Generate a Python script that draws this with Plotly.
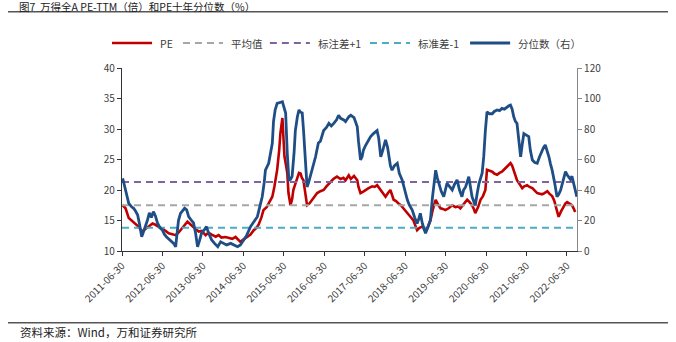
import pandas as pd
import plotly.graph_objects as go

# PE-TTM (left axis), sampled along the curve; dates as decimal years
pe_t = [2011.51, 2011.58, 2011.66, 2011.73, 2011.83, 2011.90, 2011.99, 2012.07, 2012.15, 2012.25,
        2012.32, 2012.40, 2012.49, 2012.57, 2012.65, 2012.72, 2012.82, 2012.89, 2012.94, 2013.02,
        2013.11, 2013.16, 2013.23, 2013.31, 2013.39, 2013.46, 2013.56, 2013.63, 2013.71, 2013.81,
        2013.88, 2013.95, 2014.05, 2014.13, 2014.22, 2014.30, 2014.42, 2014.50, 2014.59, 2014.67,
        2014.75, 2014.82, 2014.87, 2014.94, 2014.99, 2015.07, 2015.12, 2015.21, 2015.26, 2015.33,
        2015.38, 2015.41, 2015.46, 2015.49, 2015.51, 2015.55, 2015.58, 2015.61, 2015.66, 2015.70,
        2015.73, 2015.78, 2015.83, 2015.87, 2015.91, 2015.94, 2015.98, 2016.03, 2016.07, 2016.13,
        2016.20, 2016.25, 2016.32, 2016.40, 2016.48, 2016.55, 2016.65, 2016.72, 2016.81, 2016.90,
        2016.97, 2017.02, 2017.10, 2017.15, 2017.23, 2017.31, 2017.34, 2017.39, 2017.45, 2017.51,
        2017.59, 2017.68, 2017.74, 2017.80, 2017.89, 2017.95, 2018.01, 2018.07, 2018.13, 2018.21,
        2018.27, 2018.33, 2018.39, 2018.45, 2018.52, 2018.58, 2018.64, 2018.70, 2018.75, 2018.79,
        2018.85, 2018.92, 2018.96, 2019.00, 2019.06, 2019.12, 2019.18, 2019.25, 2019.31, 2019.37,
        2019.43, 2019.49, 2019.57, 2019.66, 2019.74, 2019.81, 2019.86, 2019.94, 2020.03, 2020.09,
        2020.15, 2020.20, 2020.23, 2020.30, 2020.36, 2020.42, 2020.48, 2020.52, 2020.58, 2020.65,
        2020.70, 2020.77, 2020.83, 2020.89, 2020.95, 2021.02, 2021.06, 2021.10, 2021.14, 2021.17,
        2021.21, 2021.26, 2021.32, 2021.39, 2021.44, 2021.51, 2021.57, 2021.64, 2021.70, 2021.76,
        2021.82, 2021.88, 2021.94, 2022.01, 2022.06, 2022.13, 2022.18, 2022.21, 2022.26, 2022.29,
        2022.35, 2022.42, 2022.46, 2022.50, 2022.56, 2022.62, 2022.66, 2022.70]
pe_v = [17.5, 17.0, 15.4, 15.0, 14.3, 14.0, 13.2, 13.6, 14.0, 14.5,
        14.3, 14.0, 13.6, 13.3, 12.9, 12.8, 12.6, 13.0, 13.4, 14.0,
        14.8, 14.5, 14.0, 13.6, 13.2, 13.3, 12.6, 13.0, 12.7, 12.35,
        12.6, 12.2, 12.3, 12.1, 12.0, 12.3, 11.5, 11.9, 12.3, 12.7,
        13.4, 13.8, 14.3, 15.5, 16.7, 17.2, 17.8, 18.9, 20.5, 23.3,
        26.5, 29.3, 31.8, 29.0, 25.5, 24.0, 22.8, 19.5, 17.5, 18.5,
        20.0, 21.0, 22.2, 22.8, 22.7, 22.0, 21.6, 19.5, 17.5, 17.8,
        18.4, 18.9, 19.5, 19.8, 20.0, 20.6, 21.4, 21.8, 22.2, 21.8,
        22.0, 21.6, 22.4, 21.8, 22.3, 21.6, 20.5, 19.5, 19.7, 20.0,
        20.3, 20.6, 20.5, 20.8, 20.0, 19.5, 18.9, 19.5, 20.0, 18.4,
        18.2, 17.8, 17.5, 17.0, 16.5, 15.9, 15.5, 15.0, 14.2, 13.4,
        13.8, 14.0, 13.6, 13.2, 14.0, 15.0, 16.8, 18.4, 17.6, 17.0,
        16.9, 16.7, 17.0, 17.5, 17.2, 17.3, 17.0, 17.6, 18.4, 18.0,
        17.5, 16.8, 16.2, 17.2, 18.4, 19.0, 20.0, 23.3, 23.2, 23.0,
        22.7, 22.5, 22.8, 23.0, 23.4, 23.8, 24.1, 24.4, 24.0, 23.3,
        22.5, 21.6, 21.0, 20.3, 20.6, 20.8, 20.5, 20.3, 19.9, 19.5,
        19.4, 19.3, 19.5, 19.8, 19.4, 19.0, 18.3, 17.5, 16.5, 15.6,
        16.5, 17.5, 17.8, 18.0, 17.8, 17.5, 17.0, 16.4]

# Ten-year percentile of PE (right axis, %)
pct_t = [2011.51, 2011.54, 2011.58, 2011.62, 2011.66, 2011.73, 2011.78, 2011.83, 2011.88, 2011.93,
         2011.98, 2012.03, 2012.07, 2012.12, 2012.17, 2012.22, 2012.27, 2012.32, 2012.37, 2012.44,
         2012.49, 2012.54, 2012.59, 2012.64, 2012.69, 2012.77, 2012.82, 2012.85, 2012.89, 2012.94,
         2012.99, 2013.04, 2013.09, 2013.14, 2013.21, 2013.26, 2013.31, 2013.36, 2013.41, 2013.46,
         2013.53, 2013.58, 2013.63, 2013.71, 2013.78, 2013.86, 2013.93, 2014.00, 2014.08, 2014.18,
         2014.25, 2014.35, 2014.42, 2014.50, 2014.57, 2014.67, 2014.75, 2014.84, 2014.89, 2014.96,
         2015.01, 2015.04, 2015.12, 2015.21, 2015.24, 2015.28, 2015.33, 2015.41, 2015.46, 2015.49,
         2015.54, 2015.58, 2015.62, 2015.66, 2015.70, 2015.75, 2015.78, 2015.83, 2015.87, 2015.91,
         2015.95, 2015.98, 2016.01, 2016.04, 2016.07, 2016.11, 2016.15, 2016.20, 2016.28, 2016.35,
         2016.40, 2016.48, 2016.55, 2016.61, 2016.67, 2016.73, 2016.80, 2016.85, 2016.90, 2016.98,
         2017.02, 2017.10, 2017.15, 2017.23, 2017.31, 2017.34, 2017.39, 2017.43, 2017.46, 2017.51,
         2017.59, 2017.64, 2017.71, 2017.76, 2017.80, 2017.84, 2017.89, 2017.94, 2018.01, 2018.06,
         2018.09, 2018.13, 2018.17, 2018.23, 2018.30, 2018.35, 2018.42, 2018.48, 2018.55, 2018.60,
         2018.67, 2018.73, 2018.79, 2018.83, 2018.87, 2018.92, 2018.97, 2019.00, 2019.05, 2019.12,
         2019.17, 2019.22, 2019.25, 2019.29, 2019.33, 2019.39, 2019.45, 2019.49, 2019.53, 2019.60,
         2019.66, 2019.72, 2019.78, 2019.84, 2019.90, 2019.94, 2019.99, 2020.07, 2020.11, 2020.15,
         2020.20, 2020.23, 2020.28, 2020.32, 2020.40, 2020.44, 2020.48, 2020.52, 2020.58, 2020.65,
         2020.70, 2020.77, 2020.83, 2020.89, 2020.95, 2021.02, 2021.06, 2021.10, 2021.14, 2021.18,
         2021.22, 2021.26, 2021.30, 2021.35, 2021.39, 2021.43, 2021.49, 2021.55, 2021.59, 2021.64,
         2021.70, 2021.76, 2021.82, 2021.88, 2021.92, 2021.96, 2022.01, 2022.05, 2022.09, 2022.13,
         2022.19, 2022.25, 2022.29, 2022.34, 2022.40, 2022.46, 2022.50, 2022.54, 2022.58, 2022.62,
         2022.66, 2022.70, 2022.74]
pct_v = [47.7, 44.0, 40.0, 35.0, 31.3, 29.0, 28.0, 26.0, 23.6, 17.0,
         9.4, 13.0, 16.0, 20.0, 25.0, 22.0, 25.8, 23.0, 18.4, 15.0,
         13.8, 11.0, 9.4, 8.0, 7.2, 5.0, 2.8, 10.0, 20.0, 24.7,
         26.0, 28.0, 27.0, 22.5, 20.0, 18.4, 12.0, 2.8, 7.0, 11.8,
         14.0, 16.0, 12.0, 7.2, 5.0, 2.8, 6.0, 5.0, 4.0, 5.0,
         4.0, 2.8, 4.0, 7.2, 10.0, 16.0, 19.0, 22.5, 28.0, 35.6,
         45.0, 53.0, 57.5, 70.6, 85.0, 92.5, 96.8, 97.5, 97.9, 95.0,
         90.5, 64.0, 46.6, 47.0, 49.0, 65.0, 79.0, 88.0, 92.5, 91.0,
         90.5, 80.0, 66.0, 50.0, 42.0, 45.0, 48.7, 55.0, 61.8, 70.8,
         72.0, 79.0, 81.0, 83.7, 82.0, 83.7, 86.0, 89.0, 87.0, 85.9,
         84.8, 88.0, 89.0, 87.5, 81.5, 72.0, 59.7, 62.0, 66.0, 69.0,
         72.8, 75.0, 77.0, 78.0, 79.0, 74.0, 61.8, 66.0, 72.8, 68.0,
         61.8, 56.0, 53.0, 56.0, 57.5, 51.0, 46.6, 40.0, 33.4, 30.0,
         26.9, 22.0, 18.1, 21.0, 24.7, 18.0, 14.0, 11.6, 15.0, 20.3,
         35.0, 48.0, 53.0, 48.0, 44.0, 39.0, 35.6, 40.0, 44.4, 42.0,
         40.0, 44.0, 46.6, 40.0, 35.6, 40.0, 42.0, 48.7, 42.0, 35.6,
         32.0, 30.0, 38.0, 44.0, 51.0, 62.0, 79.0, 91.3, 90.0, 90.0,
         91.5, 92.5, 92.0, 93.5, 93.0, 94.6, 95.2, 95.7, 93.0, 88.0,
         85.0, 83.7, 72.0, 61.8, 70.0, 77.0, 76.0, 75.0, 66.0, 59.7,
         58.0, 57.5, 62.0, 66.0, 68.0, 69.5, 66.0, 61.8, 57.0, 53.0,
         45.0, 35.6, 37.0, 40.0, 46.0, 52.0, 50.0, 48.7, 47.0, 49.0,
         45.0, 40.0, 35.6]

# Reference levels of PE
pe_mean = 17.5
pe_plus1 = 21.3
pe_minus1 = 13.8

tick_labels = ["2011-06-30", "2012-06-30", "2013-06-30", "2014-06-30", "2015-06-30", "2016-06-30",
               "2017-06-30", "2018-06-30", "2019-06-30", "2020-06-30", "2021-06-30", "2022-06-30"]
x_start, x_end = "2011-06-30", "2022-09-30"


def to_dates(years):
    out = []
    for y in years:
        yr = int(y)
        out.append(pd.Timestamp(year=yr, month=1, day=1) + pd.to_timedelta((y - yr) * 365.25, unit="D"))
    return out


pe_x = to_dates(pe_t)
pct_x = to_dates(pct_t)
level_x = [x_start, x_end]

FONT = "Noto Sans CJK SC, Noto Sans, sans-serif"
RED = "#C00000"
GREY = "#A6A6A6"
PURPLE = "#8064A2"
TEAL = "#4BACC6"
BLUE = "#1F4E86"
DASH = "7px,5px"

fig = go.Figure()
fig.add_trace(go.Scatter(x=pe_x, y=pe_v, name="PE", mode="lines",
                         line=dict(color=RED, width=2.6)))
fig.add_trace(go.Scatter(x=level_x, y=[pe_mean] * 2, name="平均值", mode="lines",
                         line=dict(color=GREY, width=2, dash=DASH)))
fig.add_trace(go.Scatter(x=level_x, y=[pe_plus1] * 2, name="标注差+1", mode="lines",
                         line=dict(color=PURPLE, width=2, dash=DASH)))
fig.add_trace(go.Scatter(x=level_x, y=[pe_minus1] * 2, name="标准差-1", mode="lines",
                         line=dict(color=TEAL, width=2, dash=DASH)))
fig.add_trace(go.Scatter(x=pct_x, y=pct_v, name="分位数（右）", mode="lines", yaxis="y2",
                         line=dict(color=BLUE, width=2.8)))

fig.update_layout(
    width=676, height=342,
    margin=dict(l=122, r=99, t=68, b=91, autoexpand=False),
    paper_bgcolor="white", plot_bgcolor="white",
    font=dict(family=FONT, size=10, color="#404040"),
    showlegend=False,
    xaxis=dict(type="date", range=[x_start, x_end], tickvals=tick_labels, ticktext=tick_labels,
               tickangle=-45, ticks="outside", ticklen=4, tickcolor="#333",
               showline=True, linecolor="#333", linewidth=1.2, showgrid=False, zeroline=False,
               tickfont=dict(size=10, color="#404040")),
    yaxis=dict(range=[10, 40], dtick=5, ticks="outside", ticklen=4, tickcolor="#333",
               showline=True, linecolor="#333", linewidth=1.2, showgrid=False, zeroline=False,
               tickfont=dict(size=10, color="#404040")),
    yaxis2=dict(range=[0, 120], dtick=20, overlaying="y", side="right", ticks="outside",
                ticklen=4, tickcolor="#888", showline=True, linecolor="#888", linewidth=1.2,
                showgrid=False, zeroline=False, tickfont=dict(size=10, color="#404040")),
)

# Legend row above the plot: a line sample and the series name for each trace
legend_starts = [-0.022, 0.134, 0.325, 0.545, 0.765]  # paper x of each sample's left end
legend_y = 1.1366
sample_len = 0.088
text_gap = 0.101
for tr, x0 in zip(fig.data, legend_starts):
    fig.add_shape(type="line", xref="paper", yref="paper", x0=x0, x1=x0 + sample_len,
                  y0=legend_y, y1=legend_y,
                  line=dict(color=tr.line.color, width=tr.line.width, dash=tr.line.dash or "solid"))
    fig.add_annotation(text=tr.name, xref="paper", yref="paper", x=x0 + text_gap, y=legend_y,
                       xanchor="left", yanchor="middle", showarrow=False,
                       font=dict(size=10.5, color="#404040", family=FONT))

# Caption, rules and source note
fig.add_annotation(text="图7  万得全A PE-TTM（倍）和PE十年分位数（%）", xref="paper", yref="paper",
                   x=-0.231, y=1.3361, xanchor="left", yanchor="middle", showarrow=False,
                   font=dict(size=10.5, color="#222", family=FONT))
fig.add_shape(type="line", xref="paper", yref="paper", x0=-0.2505, x1=1.2, y0=1.3078, y1=1.3078,
              line=dict(color="#555", width=1.5))
fig.add_shape(type="line", xref="paper", yref="paper", x0=-0.2505, x1=1.2, y0=-0.392, y1=-0.392,
              line=dict(color="#555", width=1.5))
fig.add_annotation(text="资料来源：Wind，万和证券研究所", xref="paper", yref="paper",
                   x=-0.229, y=-0.441, xanchor="left", yanchor="middle", showarrow=False,
                   font=dict(size=11.5, color="#222", family=FONT))

fig.write_html("out.html")
